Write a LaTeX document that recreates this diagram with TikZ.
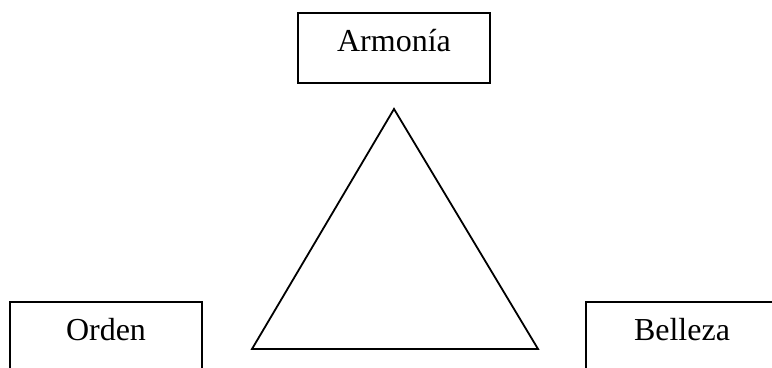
\documentclass[tikz,border=0pt]{standalone}
\usepackage{fontspec}
\setmainfont{Liberation Serif}
\usepackage{tikz}

\begin{document}
\begin{tikzpicture}[
      x=0.5pt, y=-0.5pt,
      concept/.style={rectangle, draw, line width=0.9pt, minimum width=96pt, minimum height=35pt,
        font=\fontsize{16}{19}\selectfont, text height=0.7em, text depth=0.3em}
    ]
      \clip (0,0) rectangle (772,368);

      \node[concept] (armonia) at (394,48) {Armonía};
      \node[concept] (orden) at (106,337) {Orden};
      \node[concept] (belleza) at (682,337) {Belleza};

      \coordinate (top) at (394,109);
      \coordinate (left) at (252,349);
      \coordinate (right) at (538,349);
      \draw[line width=0.9pt] (top) -- (left) -- (right) -- cycle;
    \end{tikzpicture}
\end{document}
